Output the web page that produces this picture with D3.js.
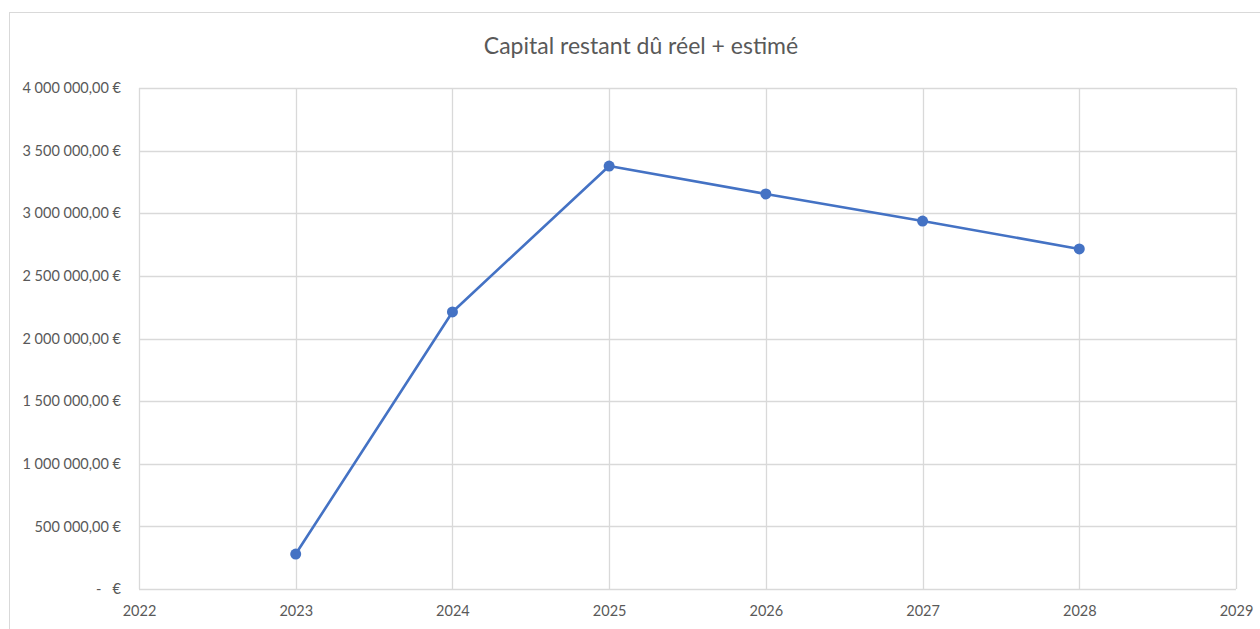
<!DOCTYPE html>
<html>
<head>
<meta charset="utf-8">
<script src="https://cdn.jsdelivr.net/npm/d3@7"></script>
<style>
  html, body { margin: 0; padding: 0; background: #fff; }
  svg { display: block; font-family: Lato, "Open Sans", sans-serif; }
</style>
</head>
<body>
<div id="chart"></div>
<script>
const chartTitle = "Capital restant dû réel + estimé";
const years = [2023, 2024, 2025, 2026, 2027, 2028];
const capital = [279000, 2212000, 3377000, 3154000, 2938000, 2715000];
const yearTicks = [2022, 2023, 2024, 2025, 2026, 2027, 2028, 2029];
const valueTicks = [0, 500000, 1000000, 1500000, 2000000, 2500000, 3000000, 3500000, 4000000];

const width = 1260;
const height = 629;
const margin = { top: 88, right: 24, bottom: 40, left: 139 };

const svg = d3.select('#chart')
  .append('svg')
  .attr('width', width)
  .attr('height', height)

// chart frame (runs off the right and bottom edges like the screenshot)
svg.append('rect')
  .attr('x', 9.5)
  .attr('y', 12.5)
  .attr('width', width + 20)
  .attr('height', height + 20)
  .attr('fill', 'none')
  .attr('stroke', '#d9d9d9')

svg.append('text')
  .attr('x', 641)
  .attr('y', 54)
  .attr('text-anchor', 'middle')
  .attr('font-size', 23)
  .attr('fill', '#595959')
  .text(chartTitle)

const xScale = d3.scaleLinear()
  .domain([2022, 2029])
  .range([margin.left, width - margin.right])

const yScale = d3.scaleLinear()
  .domain([0, 4000000])
  .range([height - margin.bottom, margin.top])

const frNum = d3.formatLocale({ decimal: ",", thousands: "\u00a0", grouping: [3], currency: ["", " €"] });
const fmt = frNum.format(",.2f");
const euro = (d) => d === 0 ? "-\u00a0\u00a0\u00a0€" : fmt(d).replace(/\u00a0/g, " ") + " €";

// gridlines
const grid = svg.append('g').attr('stroke', '#d9d9d9').attr('stroke-width', 1.3)

grid.selectAll('line.h')
  .data(valueTicks)
  .join('line')
  .attr('class', 'h')
  .attr('x1', margin.left)
  .attr('x2', width - margin.right)
  .attr('y1', (d) => Math.round(yScale(d)) + 0.5)
  .attr('y2', (d) => Math.round(yScale(d)) + 0.5)

grid.selectAll('line.v')
  .data(yearTicks)
  .join('line')
  .attr('class', 'v')
  .attr('x1', (d) => Math.round(xScale(d)) + 0.5)
  .attr('x2', (d) => Math.round(xScale(d)) + 0.5)
  .attr('y1', margin.top)
  .attr('y2', height - margin.bottom)

const yAxis = d3.axisLeft(yScale)
  .tickValues(valueTicks)
  .tickFormat(euro)
  .tickSize(0)
  .tickPadding(18)

const xAxis = d3.axisBottom(xScale)
  .tickValues(yearTicks)
  .tickFormat(d3.format("d"))
  .tickSize(0)
  .tickPadding(17)

svg.append('g')
  .attr('id', 'y-axis')
  .attr('transform', `translate(${margin.left}, 0)`)
  .call(yAxis)
  .call(g => g.select('.domain').remove())
  .call(g => g.selectAll('text')
    .attr('font-size', 14.5)
    .attr('fill', '#595959')
    .attr('font-family', 'Lato, "Open Sans", sans-serif')
    .style('white-space', 'pre'))

svg.append('g')
  .attr('id', 'x-axis')
  .attr('transform', `translate(0, ${height - margin.bottom})`)
  .call(xAxis)
  .call(g => g.select('.domain').remove())
  .call(g => g.selectAll('text')
    .attr('font-size', 14.5)
    .attr('fill', '#595959')
    .attr('font-family', 'Lato, "Open Sans", sans-serif'))

const points = years.map((y, i) => ({ year: y, value: capital[i] }));

const line = d3.line()
  .x((d) => xScale(d.year))
  .y((d) => yScale(d.value))

svg.append('path')
  .datum(points)
  .attr('fill', 'none')
  .attr('stroke', '#4472c4')
  .attr('stroke-width', 2.6)
  .attr('stroke-linejoin', 'round')
  .attr('d', line)

svg.selectAll('circle.pt')
  .data(points)
  .join('circle')
  .attr('class', 'pt')
  .attr('cx', (d) => xScale(d.year))
  .attr('cy', (d) => yScale(d.value))
  .attr('r', 5.5)
  .attr('fill', '#4472c4')
</script>
</body>
</html>
